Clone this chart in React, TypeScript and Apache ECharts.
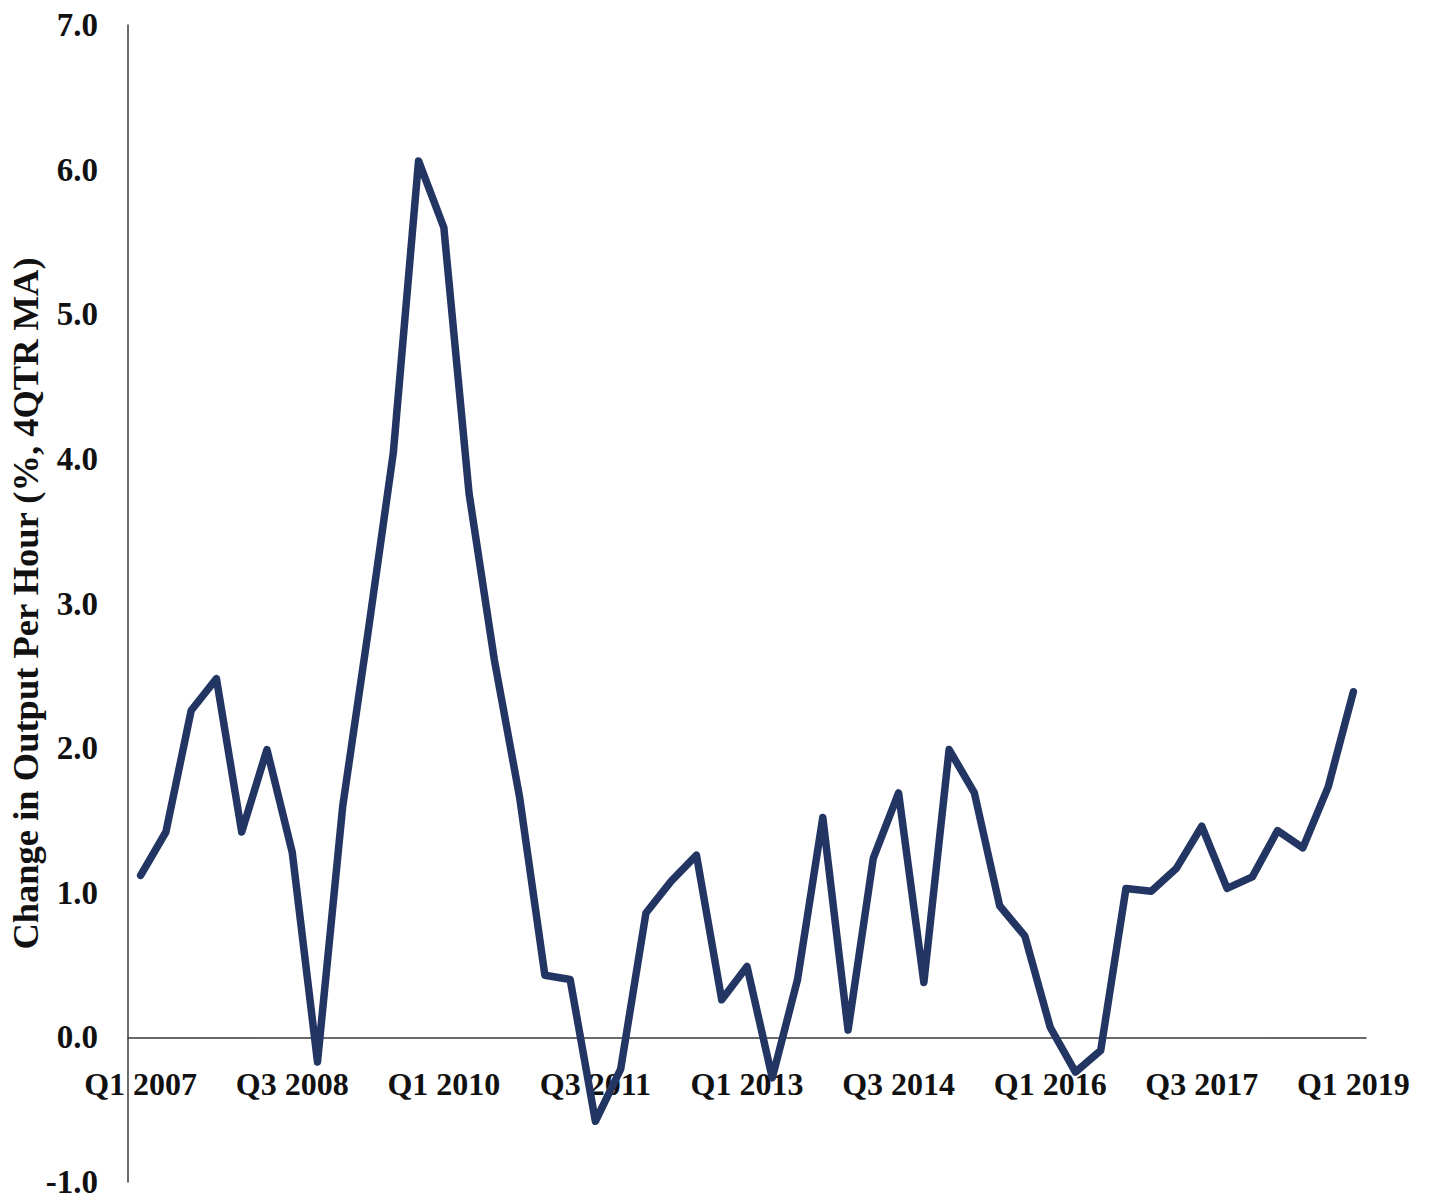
import React, { useEffect, useRef } from "react";
import * as echarts from "echarts";

const years = [2007, 2008, 2009, 2010, 2011, 2012, 2013, 2014, 2015, 2016, 2017, 2018, 2019];
const quarters: string[] = [];
years.forEach((y) => {
  ["Q1", "Q2", "Q3", "Q4"].forEach((q) => {
    if (y < 2019 || q === "Q1") quarters.push(`${q} ${y}`);
  });
});

const outputPerHour = [
  1.12, 1.42, 2.26, 2.48, 1.42, 1.99, 1.28, -0.17, 1.6, 2.8,
  4.04, 6.06, 5.6, 3.76, 2.61, 1.66, 0.43, 0.4, -0.58, -0.22,
  0.86, 1.08, 1.26, 0.26, 0.49, -0.28, 0.4, 1.52, 0.05, 1.24,
  1.69, 0.38, 1.99, 1.69, 0.91, 0.7, 0.07, -0.24, -0.09, 1.03,
  1.01, 1.17, 1.46, 1.03, 1.11, 1.43, 1.31, 1.73, 2.39,
];

const yTicks = { min: -1, max: 7, interval: 1 };
const yName = "Change in Output Per Hour (%, 4QTR MA)";

export default function App() {
  const ref = useRef<HTMLDivElement>(null);
  useEffect(() => {
    document.body.style.margin = "0";
    if (!ref.current) return;
    const chart = echarts.init(ref.current, null, { renderer: "svg" });
    const font = "'Liberation Serif', 'Times New Roman', serif";
    const option: any = {
      animation: false,
      backgroundColor: "#ffffff",
      grid: {
        left: 128,
        right: 65,
        top: 25,
        bottom: 21,
        containLabel: false,
        outerBoundsMode: "none",
      },
      xAxis: {
        type: "category",
        data: quarters,
        boundaryGap: true,
        position: "bottom",
        offset: 0,
        axisLine: { onZero: false, lineStyle: { color: "#3a3a3a", width: 1.5 } },
        axisTick: { show: false },
        axisLabel: {
          interval: 5,
          margin: 31,
          color: "#111",
          fontFamily: font,
          fontWeight: "bold",
          fontSize: 32,
        },
        splitLine: { show: false },
      },
      yAxis: {
        type: "value",
        min: yTicks.min,
        max: yTicks.max,
        interval: yTicks.interval,
        name: yName,
        nameLocation: "middle",
        nameGap: 84,
        nameMoveOverlap: false,
        nameTextStyle: {
          color: "#111",
          fontFamily: font,
          fontWeight: "bold",
          fontSize: 36.5,
        },
        axisLine: { show: true, lineStyle: { color: "#3a3a3a", width: 1.5 } },
        axisTick: { show: false },
        splitLine: { show: false },
        axisLabel: {
          margin: 30,
          color: "#111",
          fontFamily: font,
          fontWeight: "bold",
          fontSize: 33,
          formatter: (v: number) => v.toFixed(1),
        },
      },
      series: [
        {
          type: "line",
          data: outputPerHour,
          symbol: "none",
          lineStyle: { color: "#233563", width: 7.5, join: "round", cap: "round" },
          z: 3,
        },
      ],
    };
    chart.setOption(option);
    // move the category axis (line + labels) up to the zero line
    const zeroY = chart.convertToPixel({ yAxisIndex: 0 }, 0) as number;
    const minY = chart.convertToPixel({ yAxisIndex: 0 }, yTicks.min) as number;
    chart.setOption({ xAxis: { offset: -(minY - zeroY) } });
    return () => chart.dispose();
  }, []);
  return <div ref={ref} style={{ width: 1431, height: 1203 }} />;
}
